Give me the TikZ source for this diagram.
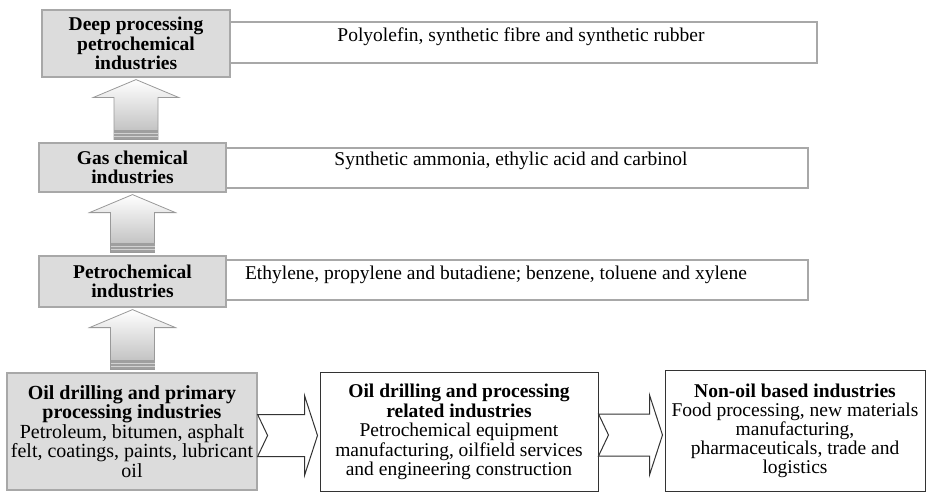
\documentclass[tikz,border=0pt]{standalone}
\usepackage{fontspec}
\setmainfont{Liberation Serif}
\usetikzlibrary{calc}
\definecolor{boxgray}{HTML}{DCDCDC}
\definecolor{edgegray}{HTML}{A8A8A8}
\newcommand\vblockarrow[2]{%
  \draw[uparrowstyle] let \p1=(#1.south), \p2=(#2.north) in
    (\x1,\y1-2pt) -- (\x1+43pt,\y1-20pt) -- (\x1+22pt,\y1-20pt) -- (\x1+22pt,\y2+3pt)
    -- (\x1-22pt,\y2+3pt) -- (\x1-22pt,\y1-20pt) -- (\x1-43pt,\y1-20pt) -- cycle;
  \fill[gray!75] let \p1=(#1.south), \p2=(#2.north) in
    (\x1-22pt,\y2+3pt) rectangle (\x1+22pt,\y2+12pt);
  \draw[gray!35, line width=1pt] let \p1=(#1.south), \p2=(#2.north) in
    (\x1-22pt,\y2+6pt) -- (\x1+22pt,\y2+6pt)
    (\x1-22pt,\y2+9pt) -- (\x1+22pt,\y2+9pt);
}
\newcommand\hblockarrow[3]{%
  \draw[rightarrowstyle] let \p1=(#1.east), \p2=(#2.west) in
    (\x1,\y1-#3+21pt) -- (\x2-15pt,\y1-#3+21pt) -- (\x2-15pt,\y1-#3+40pt)
    -- (\x2-2pt,\y1-#3) -- (\x2-15pt,\y1-#3-40pt) -- (\x2-15pt,\y1-#3-21pt)
    -- (\x1,\y1-#3-21pt) -- (\x1+10pt,\y1-#3) -- cycle;
}
\begin{document}
\begin{tikzpicture}[x=1pt,y=-1pt,
  graybox/.style={draw=edgegray, line width=1.2pt, fill=boxgray, inner sep=0pt,
    align=center, font=\fontsize{19.5}{19.5}\selectfont\bfseries},
  textbox/.style={draw=edgegray, line width=1.2pt, fill=white, inner sep=0pt},
  lowbox/.style={draw=black!80, line width=1pt, fill=white, inner sep=0pt,
    align=center, font=\fontsize{19.5}{19.5}\selectfont},
  desc/.style={anchor=base, inner sep=0pt, font=\fontsize{19.5}{19.5}\selectfont},
  uparrowstyle/.style={draw=gray!80, line width=0.8pt, top color=white, bottom color=gray!55},
  rightarrowstyle/.style={draw=black!80, line width=1pt, fill=white, line join=miter}]
\useasboundingbox (0,0) rectangle (926,492);

% text boxes (behind gray boxes)
\node[textbox, minimum width=587, minimum height=41] (t1) at (523.5,42.5) {};
\node[textbox, minimum width=582, minimum height=40] (t2) at (517,168) {};
\node[textbox, minimum width=582, minimum height=40] (t3) at (517,280) {};
\node[desc] (d1) at (521,42) {Polyolefin, synthetic fibre and synthetic rubber};
\node[desc] (d2) at (511,165) {Synthetic ammonia, ethylic acid and carbinol};
\node[desc] (d3) at (496,279) {Ethylene, propylene and butadiene; benzene, toluene and xylene};

% gray boxes
\node[graybox, minimum width=188, minimum height=67] (b1) at (136,43.5)
  {Deep processing\\petrochemical\\industries};
\node[graybox, minimum width=187, minimum height=49] (b2) at (132.5,167.5)
  {Gas chemical\\industries};
\node[graybox, minimum width=187, minimum height=51] (b3) at (132.5,281.5)
  {Petrochemical\\industries};
\node[graybox, minimum width=250, minimum height=117, font=\fontsize{20}{19.5}\selectfont] (b4) at (132,431.5)
  {\textbf{Oil drilling and primary}\\\textbf{processing industries}\\Petroleum, bitumen, asphalt\\felt, coatings, paints, lubricant\\oil};
\node[lowbox, minimum width=278, minimum height=119] (b5) at (459,432)
  {\textbf{Oil drilling and processing}\\\textbf{related industries}\\Petrochemical equipment\\manufacturing, oilfield services\\and engineering construction};
\node[lowbox, minimum width=260, minimum height=121, font=\fontsize{19.5}{19}\selectfont] (b6) at (795,431)
  {\textbf{Non-oil based industries}\\Food processing, new materials\\manufacturing,\\pharmaceuticals, trade and\\logistics};

% vertical block arrows
\vblockarrow{b1}{b2}
\vblockarrow{b2}{b3}
\vblockarrow{b3}{b4}

% horizontal block arrows
\hblockarrow{b4}{b5}{4pt}
\hblockarrow{b5}{b6}{3pt}
\end{tikzpicture}
\end{document}
